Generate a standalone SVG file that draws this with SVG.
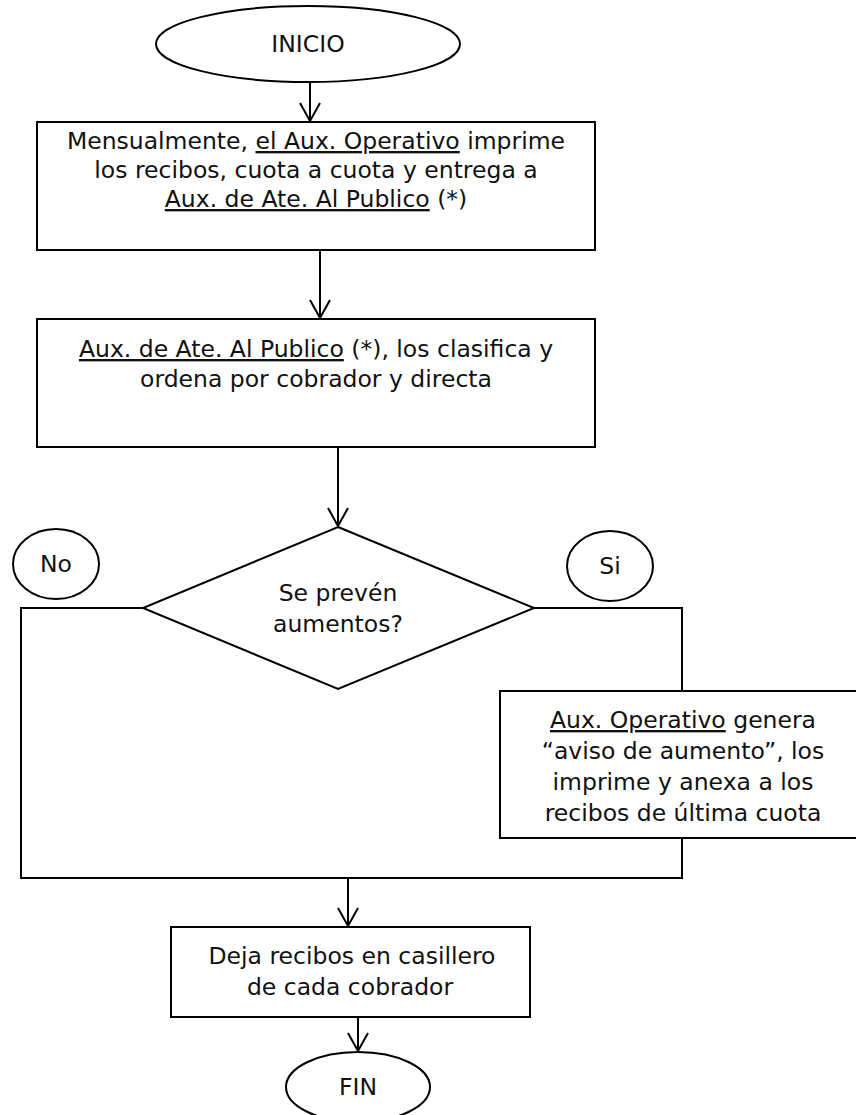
<svg xmlns="http://www.w3.org/2000/svg" width="856" height="1115" viewBox="0 0 856 1115">
  <style>
    .shape { fill: #ffffff; stroke: #000000; stroke-width: 2; }
    .wire { fill: none; stroke: #000000; stroke-width: 2; }
    .label { font-family: "DejaVu Sans", "Liberation Sans", sans-serif; font-size: 23.5px; fill: #111111; text-anchor: middle; }
    .u { text-decoration: underline; }
  </style>
  <defs>
    <marker id="vhead" markerUnits="userSpaceOnUse" markerWidth="22" markerHeight="24" viewBox="-1 -1 22 24" refX="18" refY="10" orient="auto" overflow="visible">
      <path d="M0,0 L18,10 L0,20" fill="none" stroke="#000000" stroke-width="2"/>
    </marker>
  </defs>
  <rect x="0" y="0" width="856" height="1115" fill="#ffffff"/>

  <!-- connectors -->
  <g id="connectors">
    <line class="wire" x1="310" y1="82" x2="310" y2="121" marker-end="url(#vhead)"/>
    <line class="wire" x1="320" y1="250" x2="320" y2="318" marker-end="url(#vhead)"/>
    <line class="wire" x1="338" y1="447" x2="338" y2="526" marker-end="url(#vhead)"/>
    <polyline class="wire" points="143,608 21,608 21,878 682,878 682,838"/>
    <polyline class="wire" points="534,608 682,608 682,691"/>
    <line class="wire" x1="348" y1="878" x2="348" y2="926" marker-end="url(#vhead)"/>
    <line class="wire" x1="358" y1="1017" x2="358" y2="1051" marker-end="url(#vhead)"/>
  </g>

  <g id="inicio">
    <ellipse class="shape" cx="308" cy="44" rx="152" ry="38"/>
    <text class="label" x="308" y="52">INICIO</text>
  </g>

  <g id="imprime">
    <rect class="shape" x="37" y="122" width="558" height="128"/>
    <text class="label" x="316" y="149">Mensualmente, <tspan class="u">el Aux. Operativo</tspan> imprime</text>
    <text class="label" x="316" y="178">los recibos, cuota a cuota y entrega a</text>
    <text class="label" x="316" y="207"><tspan class="u">Aux. de Ate. Al Publico</tspan> (*)</text>
  </g>

  <g id="clasifica">
    <rect class="shape" x="37" y="319" width="558" height="128"/>
    <text class="label" x="316" y="357"><tspan class="u">Aux. de Ate. Al Publico</tspan> (*), los clasifica y</text>
    <text class="label" x="316" y="387">ordena por cobrador y directa</text>
  </g>

  <g id="decision">
    <polygon class="shape" points="338,527 534,608 338,689 143,608"/>
    <text class="label" x="338" y="601">Se prevén</text>
    <text class="label" x="338" y="632">aumentos?</text>
  </g>

  <g id="no">
    <ellipse class="shape" cx="56" cy="564" rx="43" ry="35"/>
    <text class="label" x="56" y="572">No</text>
  </g>

  <g id="si">
    <ellipse class="shape" cx="610" cy="566" rx="43" ry="35"/>
    <text class="label" x="610" y="574">Si</text>
  </g>

  <g id="aviso">
    <rect class="shape" x="500" y="691" width="380" height="147"/>
    <text class="label" x="683" y="728"><tspan class="u">Aux. Operativo</tspan> genera</text>
    <text class="label" x="683" y="759">“aviso de aumento”, los</text>
    <text class="label" x="683" y="790">imprime y anexa a los</text>
    <text class="label" x="683" y="821">recibos de última cuota</text>
  </g>

  <g id="casillero">
    <rect class="shape" x="171" y="927" width="359" height="90"/>
    <text class="label" x="352" y="964">Deja recibos en casillero</text>
    <text class="label" x="350" y="995">de cada cobrador</text>
  </g>

  <g id="fin">
    <ellipse class="shape" cx="358" cy="1087" rx="72" ry="35"/>
    <text class="label" x="358" y="1095">FIN</text>
  </g>
</svg>
